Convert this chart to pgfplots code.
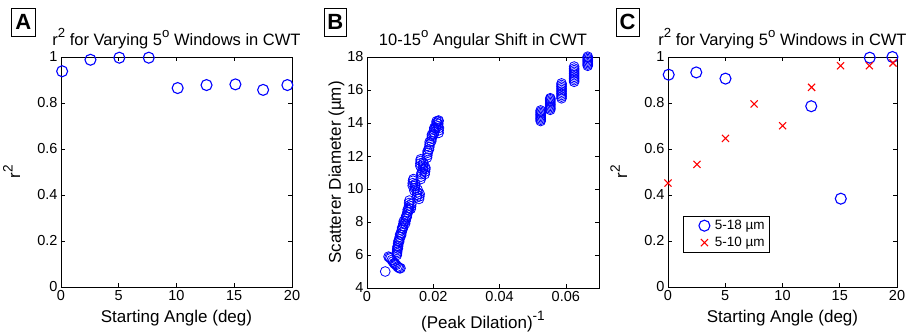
\documentclass[border=0pt]{standalone}
\usepackage{pgfplots}
\pgfplotsset{compat=1.18}
\usepackage{graphicx}
\usepackage{fontspec}
\setmainfont{Liberation Sans}
\definecolor{mblue}{RGB}{0,0,255}
\definecolor{mred}{RGB}{255,0,0}
\newcommand{\tickfont}{\fontsize{14.5}{16}\selectfont}
\newcommand{\labfont}{\fontsize{17}{19}\selectfont}
\newcommand{\titfont}{\fontsize{16.5}{18}\selectfont}
\newcommand{\msup}[1]{\raisebox{0.44em}{\scalebox{0.8}{#1}}}
\pgfplotsset{
  mstyle/.style={
    scale only axis, anchor=south west, clip=false,
    /pgf/number format/assume math mode=true,
    tick label style={font=\tickfont},
    tick align=inside, major tick length=4pt,
    axis line style={line width=0.8pt}, every tick/.style={line width=0.7pt, black},
    every axis title/.style={at={(axis description cs:0.5,1)}, anchor=base, yshift=12pt, font=\titfont},
    every axis x label/.style={at={(axis description cs:0.5,0)}, anchor=base, yshift=-35pt, font=\labfont},
  },
}
\begin{document}
\begin{tikzpicture}
\useasboundingbox (0pt,0pt) rectangle (916pt,333pt);
% Panel A
\begin{axis}[mstyle, at={(61pt,46pt)}, width=231pt, height=230pt,
  xmin=0, xmax=20, ymin=0, ymax=1,
  xtick={0,5,10,15,20}, ytick={0,0.2,0.4,0.6,0.8,1},
  title={r\msup{2} for Varying 5\msup{o} Windows in CWT},
  xlabel={Starting Angle (deg)},
  ylabel={r\msup{2}},
  every axis y label/.style={at={(axis description cs:-0.177,0.5)}, rotate=90, anchor=base, font=\labfont},
]
\addplot[only marks, mark=o, mark size=5.5pt, mblue, line width=1.1pt] coordinates {
(0.1,0.938) (2.55,0.988) (5.05,0.997) (7.6,0.997) (10.1,0.865) (12.6,0.878) (15.1,0.881) (17.5,0.857) (19.6,0.878)};
\end{axis}
% Panel B
\begin{axis}[mstyle, at={(367pt,45pt)}, width=232pt, height=231pt,
  xmin=0, xmax=0.07, ymin=4, ymax=18,
  xtick={0,0.02,0.04,0.06}, ytick={4,6,8,10,12,14,16,18},
  scaled x ticks=false,
  xticklabel style={/pgf/number format/fixed, /pgf/number format/precision=2},
  title={10-15\msup{o} Angular Shift in CWT},
  xlabel={(Peak Dilation)\msup{-1}},
  every axis x label/.style={at={(axis description cs:0.5,0)}, anchor=base, yshift=-40pt, font=\labfont},
  ylabel={Scatterer Diameter (µm)},
  every axis y label/.style={at={(axis description cs:-0.113,0.5)}, rotate=90, anchor=base, font=\labfont},
]
\addplot[only marks, mark=o, mark size=4.9pt, mblue, line width=0.8pt] coordinates {
(0.0055,5.0)
(0.0065,5.9) (0.0068,5.85) (0.0071,5.8) (0.0075,5.7) (0.0078,5.6)
(0.0082,5.5) (0.0085,5.45) (0.0088,5.4) (0.0092,5.3) (0.0095,5.25) (0.0098,5.2) (0.0101,5.2)
(0.0090,6.0) (0.0090,6.1) (0.0091,6.2) (0.0091,6.3) (0.0092,6.4) (0.0092,6.5)
(0.0093,6.4) (0.0094,6.55) (0.0094,6.7) (0.0095,6.85)
(0.0097,6.8) (0.0098,6.95) (0.0099,7.1) (0.0100,7.25)
(0.0103,7.2) (0.0104,7.35) (0.0105,7.5) (0.0106,7.65)
(0.0108,7.6) (0.0109,7.75) (0.0110,7.9) (0.0111,8.05)
(0.0115,7.9) (0.0116,8.05) (0.0117,8.2) (0.0118,8.35)
(0.0120,8.3) (0.0121,8.45) (0.0122,8.6) (0.0123,8.75)
(0.0126,8.7) (0.0126,8.85) (0.0127,9.0) (0.0127,9.15) (0.0128,9.3)
(0.0132,8.8) (0.0133,8.95) (0.0134,9.1)
(0.0138,10.2) (0.0138,10.35) (0.0139,10.5) (0.0140,10.6)
(0.0143,9.9) (0.0144,10.05) (0.0145,10.2) (0.0146,10.3)
(0.0150,9.5) (0.0151,9.65) (0.0152,9.8) (0.0153,9.95)
(0.0157,9.4) (0.0158,9.55) (0.0159,9.7)
(0.0162,10.6) (0.0163,10.75) (0.0164,10.9) (0.0165,11.0)
(0.0161,11.4) (0.0161,11.55) (0.0162,11.7) (0.0162,11.8)
(0.0168,11.2) (0.0169,11.35) (0.0170,11.5) (0.0170,11.6)
(0.0174,10.9) (0.0175,11.05) (0.0176,11.2) (0.0176,11.3)
(0.0181,11.9) (0.0182,12.05) (0.0183,12.2) (0.0183,12.3)
(0.0187,12.4) (0.0188,12.55) (0.0189,12.7) (0.0189,12.85)
(0.0194,12.9) (0.0195,13.05) (0.0196,13.2) (0.0196,13.3)
(0.0201,13.3) (0.0202,13.45) (0.0203,13.6) (0.0203,13.7)
(0.0208,13.7) (0.0209,13.85) (0.0210,14.0) (0.0210,14.1)
(0.0214,13.8) (0.0215,13.95) (0.0215,14.1) (0.0216,14.15)
(0.0216,13.4) (0.0216,13.55) (0.0217,13.7)
(0.0524,14.12) (0.0524,14.2) (0.0524,14.28) (0.0524,14.36) (0.0524,14.44) (0.0524,14.52) (0.0524,14.6) (0.0524,14.68) (0.0524,14.76)
(0.0553,14.8) (0.0553,14.88) (0.0553,14.96) (0.0553,15.04) (0.0553,15.12) (0.0553,15.2) (0.0553,15.28) (0.0553,15.36) (0.0553,15.44) (0.0553,15.5)
(0.0587,15.5) (0.0587,15.6) (0.0587,15.7) (0.0587,15.8) (0.0587,15.9) (0.0587,16.0) (0.0587,16.1) (0.0587,16.2) (0.0587,16.3) (0.0587,16.4)
(0.0625,16.5) (0.0625,16.6) (0.0625,16.7) (0.0625,16.8) (0.0625,16.9) (0.0625,17.0) (0.0625,17.1) (0.0625,17.2) (0.0625,17.3) (0.0625,17.42)
(0.0666,17.47) (0.0666,17.55) (0.0666,17.63) (0.0666,17.71) (0.0666,17.79) (0.0666,17.87) (0.0666,17.95) (0.0666,18.02)
};
\end{axis}
% Panel C
\begin{axis}[mstyle, at={(668pt,46pt)}, width=229pt, height=230pt,
  xmin=0, xmax=20, ymin=0, ymax=1,
  xtick={0,5,10,15,20}, ytick={0,0.2,0.4,0.6,0.8,1},
  title={r\msup{2} for Varying 5\msup{o} Windows in CWT},
  xlabel={Starting Angle (deg)},
  ylabel={r\msup{2}},
  every axis y label/.style={at={(axis description cs:-0.178,0.5)}, rotate=90, anchor=base, font=\labfont},
  legend style={at={(axis description cs:0.066,0.309)}, anchor=north west, draw=black, line width=0.6pt,
    font=\fontsize{13.5}{15}\selectfont, inner xsep=3pt, inner ysep=2pt, row sep=2pt},
  legend cell align=left,
  legend image code/.code={\path[draw=none] (0pt,0pt) -- (26.5pt,0pt); \draw[#1] plot coordinates {(18pt,0pt)};},
]
\addplot[only marks, mark=o, mark size=5.5pt, mblue, line width=1.1pt] coordinates {
(0.06,0.923) (2.47,0.933) (5.02,0.906) (12.51,0.786) (15.09,0.384) (17.62,0.997) (19.6,1.0)};
\addlegendentry{5-18 µm}
\addplot[only marks, mark=x, mark size=5pt, mred, line width=1.1pt] coordinates {
(0,0.452) (2.53,0.533) (5.02,0.646) (7.52,0.796) (10.01,0.701) (12.54,0.868) (15.07,0.962) (17.59,0.962) (19.65,0.974)};
\addlegendentry{5-10 µm}
\end{axis}
% Panel letters
\draw[line width=0.7pt] (11.7pt,297pt) rectangle (35pt,324.7pt);
\node[font=\bfseries\fontsize{22}{24}\selectfont] at (23.35pt,310.85pt) {A};
\draw[line width=0.7pt] (324pt,297pt) rectangle (346.7pt,324.7pt);
\node[font=\bfseries\fontsize{22}{24}\selectfont] at (335.35pt,310.85pt) {B};
\draw[line width=0.7pt] (616pt,297pt) rectangle (639.3pt,324.7pt);
\node[font=\bfseries\fontsize{22}{24}\selectfont] at (627.65pt,310.85pt) {C};
\end{tikzpicture}
\end{document}
